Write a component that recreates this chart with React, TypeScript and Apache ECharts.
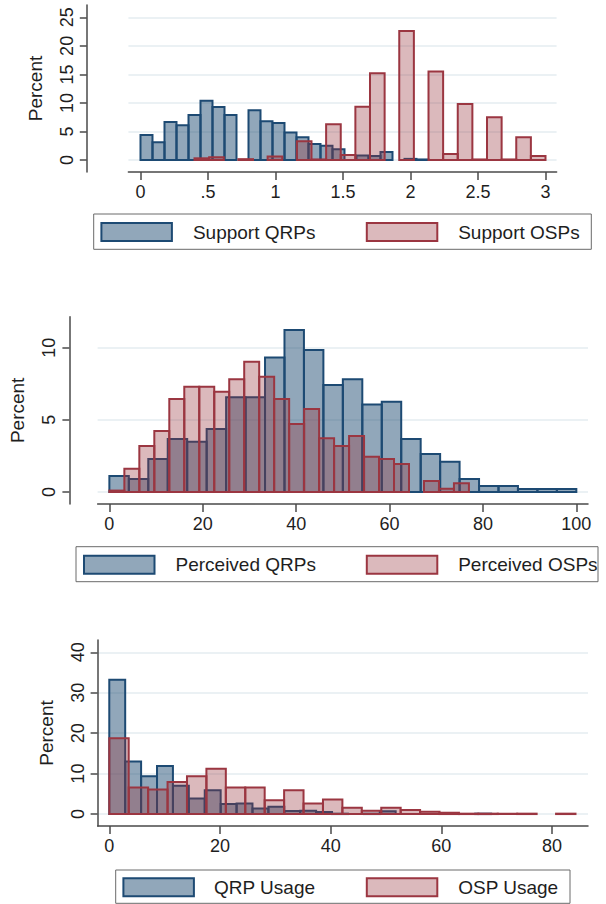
import React, { useEffect, useRef } from "react";
import * as echarts from "echarts";

// ---------------- Data: percent of respondents per histogram bin ----------------
// Panel 1 – Support (0–3 scale), 24 bins each
const supportQrpRange = [0, 2.1333];
const supportQrpPercent = [4.4, 3.1, 6.65, 6.1, 7.9, 10.4, 9.3, 7.9, 0, 8.7, 6.8, 6.5, 4.8, 4.0, 2.8, 2.5, 1.9, 0, 0.8, 0.7, 1.4, 0, 0.2, 0.1];
const supportOspRange = [0.4, 3.0];
const supportOspPercent = [0.3, 0.5, 0, 0.15, 0, 0.6, 0, 3.3, 0.1, 6.25, 0.9, 9.35, 15.2, 0, 22.6, 0, 15.5, 1.05, 9.8, 0.1, 7.5, 0.1, 4.0, 0.7];

// Panel 2 – Perceived prevalence (0–100), 24 bins each
const perceivedQrpRange = [0, 100];
const perceivedQrpPercent = [1.11, 0.9, 2.29, 3.67, 3.49, 4.37, 6.56, 6.56, 9.33, 11.23, 9.84, 7.42, 7.81, 6.07, 6.26, 3.67, 2.63, 2.1, 0.9, 0.42, 0.42, 0.21, 0.21, 0.21];
const perceivedOspRange = [0, 77];
const perceivedOspPercent = [0.1, 1.62, 3.19, 4.23, 6.44, 7.3, 7.3, 6.95, 7.81, 9.03, 7.99, 6.44, 4.71, 5.75, 3.72, 3.19, 3.88, 2.45, 2.29, 1.94, 0, 0.76, 0.23, 0.6];

// Panel 3 – Usage, 24 bins each
const qrpUsageRange = [0, 69];
const qrpUsagePercent = [33.2, 13.0, 9.34, 11.9, 6.97, 3.85, 5.9, 2.46, 2.62, 1.39, 1.8, 0.74, 0.82, 0.5, 0.1, 0, 0.1, 0.7, 0, 0, 0, 0, 0, 0.1];
const ospUsageRange = [0, 84.24];
const ospUsagePercent = [18.77, 6.56, 6.07, 7.95, 9.34, 11.2, 6.56, 6.56, 3.44, 5.9, 2.62, 3.6, 1.56, 0.82, 1.56, 0.98, 0.57, 0.33, 0.1, 0.1, 0.1, 0.1, 0, 0.1];

// Tick values
const supportTicksX = [0, 0.5, 1, 1.5, 2, 2.5, 3];
const supportTicksY = [0, 5, 10, 15, 20, 25];
const perceivedTicksX = [0, 20, 40, 60, 80, 100];
const perceivedTicksY = [0, 5, 10];
const usageTicksX = [0, 20, 40, 60, 80];
const usageTicksY = [0, 10, 20, 30, 40];

// Legend labels
const supportLabels = ["Support QRPs", "Support OSPs"];
const perceivedLabels = ["Perceived QRPs", "Perceived OSPs"];
const usageLabels = ["QRP Usage", "OSP Usage"];
const yTitle = "Percent";

// ---------------- Styling ----------------
const FONT = '"Liberation Sans", Arial, Helvetica, sans-serif';
const BLUE_FILL = "rgba(26,71,111,0.48)";
const BLUE_LINE = "#1d4a73";
const RED_FILL = "rgba(150,50,60,0.34)";
const RED_LINE = "#9b3641";
const AXIS = "#4a4a4a";
const GRID = "#e4edf1";
const TEXT = "#1e1e1e";

function toBins(range: number[], pct: number[]) {
  const w = (range[1] - range[0]) / pct.length;
  return pct
    .map((v, i) => [range[0] + i * w, range[0] + (i + 1) * w, v])
    .filter((d) => d[2] > 0);
}

const stataNum = (v: number) => String(v).replace(/^0\./, ".");

function histSeries(name: string, idx: number, range: number[], pct: number[], fill: string, stroke: string, z: number) {
  return {
    type: "custom",
    name,
    xAxisIndex: idx,
    yAxisIndex: idx,
    z,
    encode: { x: [0, 1], y: 2 },
    data: toBins(range, pct),
    renderItem: (_p: any, api: any) => {
      const a = api.coord([api.value(0), 0]);
      const b = api.coord([api.value(1), api.value(2)]);
      return {
        type: "rect",
        shape: { x: a[0], y: b[1], width: b[0] - a[0], height: a[1] - b[1] },
        style: { fill, stroke, lineWidth: 2 },
      };
    },
  };
}

const panels = [
  { grid: { left: 128.4, top: 5, width: 428.2, height: 167 }, x: [-0.0896, 3.0822], y: [-2.1, 27.16], yOffset: 41.6, tx: supportTicksX, ty: supportTicksY },
  { grid: { left: 97.6, top: 316.7, width: 490.4, height: 187.3 }, x: [-2.52, 102.5], y: [-0.83, 12.15], yOffset: 28.2, tx: perceivedTicksX, ty: perceivedTicksY },
  { grid: { left: 97.6, top: 640, width: 490.4, height: 186 }, x: [-2.11, 86.5], y: [-2.95, 43.03], yOffset: 0, tx: usageTicksX, ty: usageTicksY },
];

function legendGraphic(labels: string[], box: number[], blueX: number, textX: number, swY: number) {
  const [bx, by, bw, bh] = box;
  const cy = swY + 9;
  return [
    { type: "rect", shape: { x: bx, y: by, width: bw, height: bh }, style: { fill: "#fff", stroke: "#6a6a6a", lineWidth: 1 }, z: 10 },
    { type: "rect", shape: { x: blueX, y: swY, width: 70.5, height: 18 }, style: { fill: BLUE_FILL, stroke: BLUE_LINE, lineWidth: 2 }, z: 11 },
    { type: "text", x: textX, y: cy, style: { text: labels[0], fontSize: 19, fontFamily: FONT, fill: TEXT, align: "left", verticalAlign: "middle" }, z: 11 },
    { type: "rect", shape: { x: 366.8, y: swY, width: 70.5, height: 18 }, style: { fill: RED_FILL, stroke: RED_LINE, lineWidth: 2 }, z: 11 },
    { type: "text", x: 458.2, y: cy, style: { text: labels[1], fontSize: 19, fontFamily: FONT, fill: TEXT, align: "left", verticalAlign: "middle" }, z: 11 },
  ];
}

export default function App() {
  const ref = useRef<HTMLDivElement>(null);
  useEffect(() => {
    if (!ref.current) return;
    const chart = echarts.init(ref.current, undefined, { renderer: "svg" });
    const option: any = {
      animation: false,
      backgroundColor: "#ffffff",
      grid: panels.map((p) => ({ ...p.grid, containLabel: false })),
      xAxis: panels.map((p, i) => ({
        type: "value",
        gridIndex: i,
        min: p.x[0],
        max: p.x[1],
        axisLine: { show: true, onZero: false, lineStyle: { color: AXIS, width: 1.5 } },
        axisTick: { show: true, length: 8, customValues: p.tx, lineStyle: { color: AXIS, width: 1.5 } },
        axisLabel: { customValues: p.tx, formatter: (v: number) => stataNum(v), margin: 11, fontSize: 18, fontFamily: FONT, color: TEXT },
        splitLine: { show: false },
      })),
      yAxis: panels.map((p, i) => ({
        type: "value",
        gridIndex: i,
        min: p.y[0],
        max: p.y[1],
        offset: p.yOffset,
        name: yTitle,
        nameLocation: "middle",
        nameGap: 42,
        nameTextStyle: { fontSize: 19, fontFamily: FONT, color: TEXT },
        axisLine: { show: true, onZero: false, lineStyle: { color: AXIS, width: 1.5 } },
        axisTick: { show: true, length: 7, customValues: p.ty, lineStyle: { color: AXIS, width: 1.5 } },
        axisLabel: { customValues: p.ty, rotate: 90, margin: 11, fontSize: 18, fontFamily: FONT, color: TEXT },
        splitLine: { show: true, lineStyle: { color: GRID, width: 1.5 } },
      })),
      series: [
        histSeries(supportLabels[0], 0, supportQrpRange, supportQrpPercent, BLUE_FILL, BLUE_LINE, 2),
        histSeries(supportLabels[1], 0, supportOspRange, supportOspPercent, RED_FILL, RED_LINE, 3),
        histSeries(perceivedLabels[0], 1, perceivedQrpRange, perceivedQrpPercent, BLUE_FILL, BLUE_LINE, 2),
        histSeries(perceivedLabels[1], 1, perceivedOspRange, perceivedOspPercent, RED_FILL, RED_LINE, 3),
        histSeries(usageLabels[0], 2, qrpUsageRange, qrpUsagePercent, BLUE_FILL, BLUE_LINE, 2),
        histSeries(usageLabels[1], 2, ospUsageRange, ospUsagePercent, RED_FILL, RED_LINE, 3),
      ],
      graphic: [
        ...legendGraphic(supportLabels, [93.7, 214, 497.6, 35.3], 101.4, 192.9, 223),
        ...legendGraphic(perceivedLabels, [76, 546.7, 522, 35], 84, 175.5, 555.7),
        ...legendGraphic(usageLabels, [115.7, 870, 454.3, 33.3], 123.4, 214, 878.3),
      ],
    };
    chart.setOption(option);
    return () => chart.dispose();
  }, []);
  return <div ref={ref} style={{ position: "fixed", left: 0, top: 0, width: 606, height: 904 }} />;
}
